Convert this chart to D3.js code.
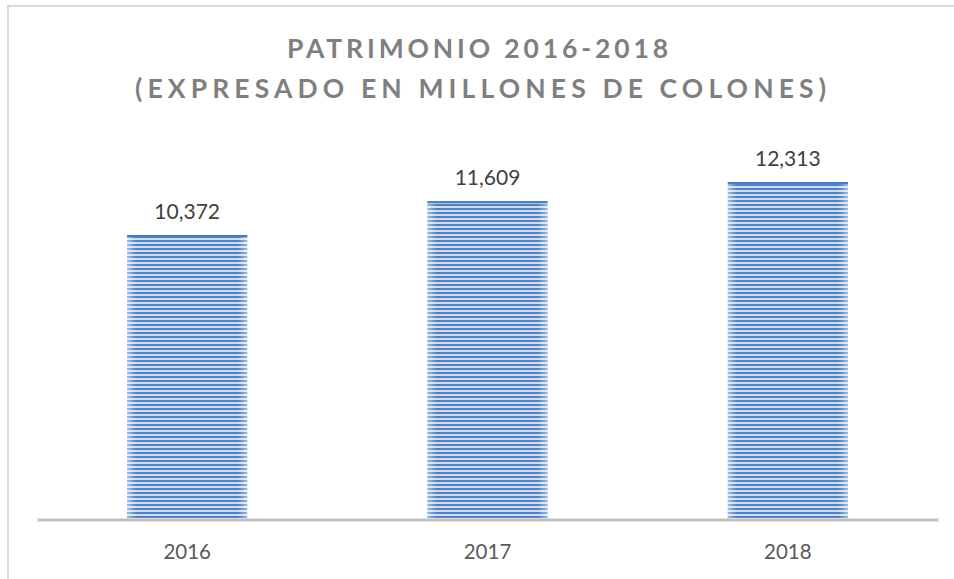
<!DOCTYPE html>
<html><head><meta charset="utf-8">
<script src="https://cdn.jsdelivr.net/npm/d3@7"></script>
<style>body{margin:0;background:#fff}svg{display:block}</style>
</head><body>
<script>
const categories = ["2016", "2017", "2018"];
const values = [10372, 11609, 12313];
const titleLines = ["PATRIMONIO 2016-2018", "(EXPRESADO EN MILLONES DE COLONES)"];

const W = 954, H = 579;
const svg = d3.select("body").append("svg").attr("width", W).attr("height", H);
const defs = svg.append("defs");
const pat = defs.append("pattern").attr("id","stripes").attr("patternUnits","userSpaceOnUse")
  .attr("width",8).attr("height",4);
pat.append("rect").attr("width",8).attr("height",4).attr("fill","#cfdcef");
pat.append("rect").attr("width",8).attr("height",2).attr("fill","#4f81c4");
const grad = defs.append("linearGradient").attr("id","edge").attr("x1","0").attr("x2","1");
[[0,0.45],[0.08,0],[0.92,0],[1,0.45]].forEach(([o,a])=>grad.append("stop").attr("offset",o).attr("stop-color","#fff").attr("stop-opacity",a));

// frame
svg.append("path").attr("d","M8,579 V6 H954").attr("fill","none").attr("stroke","#d9d9d9").attr("stroke-width",2);

const x = d3.scaleBand().domain(categories).range([37,938]).paddingInner(0.6).paddingOuter(0.3);
const y = d3.scaleLinear().domain([0,14000]).range([518,136]);
const font = "Lato, 'Open Sans', sans-serif";

const g = svg.append("g");
categories.forEach((c,i)=>{
  const x0 = x(c), bw = x.bandwidth(), yt = y(values[i]);
  g.append("rect").attr("x",x0).attr("y",yt).attr("width",bw).attr("height",y(0)-yt).attr("fill","url(#stripes)");
  g.append("rect").attr("x",x0).attr("y",yt).attr("width",bw).attr("height",y(0)-yt).attr("fill","url(#edge)");
  g.append("rect").attr("x",x0).attr("y",yt).attr("width",bw).attr("height",2).attr("fill","#4a7bbf");
  g.append("text").attr("x",x0+bw/2).attr("y",yt-16).attr("text-anchor","middle")
    .attr("font-family",font).attr("font-size",21).attr("fill","#404040")
    .text(d3.format(",")(values[i]));
});

// axis
const ax = svg.append("g").attr("transform","translate(0,519.5)").call(d3.axisBottom(x).tickSize(0).tickPadding(25));
ax.select(".domain").attr("stroke","#bfbfbf").attr("stroke-width",3);
ax.selectAll("text").attr("font-family",font).attr("font-size",20.5).attr("fill","#595959");

// title
svg.append("text").attr("x",477.5).attr("y",58).attr("text-anchor","middle")
  .attr("font-family",font).attr("font-weight","bold").attr("font-size",26.5)
  .attr("textLength",381).attr("lengthAdjust","spacing").attr("fill","#7f7f7f").text(titleLines[0]);
svg.append("text").attr("x",480.5).attr("y",98).attr("text-anchor","middle")
  .attr("font-family",font).attr("font-weight","bold").attr("font-size",26.5)
  .attr("textLength",691).attr("lengthAdjust","spacing").attr("fill","#7f7f7f").text(titleLines[1]);
</script>
</body></html>
